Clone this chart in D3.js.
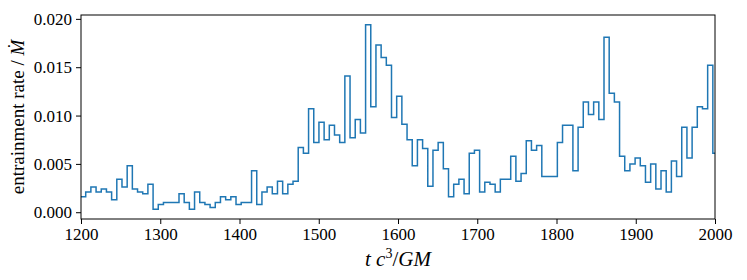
<!DOCTYPE html>
<html>
<head>
<meta charset="utf-8">
<script src="https://cdn.jsdelivr.net/npm/d3@7"></script>
<style>
  body { margin: 0; background: #fff; }
  svg { display: block; }
  text { font-family: "Liberation Serif", "DejaVu Serif", serif; fill: #000; }
</style>
</head>
<body>
<div id="chart"></div>
<script>
        // Bin layout of the step series (time in units of GM/c^3)
        const binStart = 1199.4;
        const binWidth = 6.54;

        // entrainment rate per bin
        const rates = [
            0.0016, 0.0021, 0.0026, 0.0021, 0.0024, 0.0021, 0.0013, 0.0034, 0.0026, 0.0048,
            0.0024, 0.0021, 0.0019, 0.0029, 0.0003, 0.0008, 0.0010, 0.0010, 0.0010, 0.0019,
            0.0010, 0.0003, 0.0021, 0.0010, 0.0008, 0.0005, 0.0010, 0.0016, 0.0013, 0.0016,
            0.0008, 0.0010, 0.0010, 0.0043, 0.0008, 0.0021, 0.0026, 0.0019, 0.0032, 0.0019,
            0.0029, 0.0032, 0.0067, 0.0061, 0.0107, 0.0072, 0.0093, 0.0075, 0.0090, 0.0080,
            0.0072, 0.0141, 0.0077, 0.0096, 0.0082, 0.0194, 0.0109, 0.0173, 0.0160, 0.0152,
            0.0098, 0.0120, 0.0091, 0.0075, 0.0048, 0.0075, 0.0066, 0.0027, 0.0064, 0.0072,
            0.0045, 0.0016, 0.0029, 0.0034, 0.0019, 0.0061, 0.0064, 0.0021, 0.0031, 0.0029,
            0.0021, 0.0034, 0.0034, 0.0058, 0.0032, 0.0040, 0.0074, 0.0064, 0.0069, 0.0037,
            0.0037, 0.0037, 0.0072, 0.0090, 0.0090, 0.0043, 0.0088, 0.0114, 0.0101, 0.0114,
            0.0096, 0.0181, 0.0123, 0.0114, 0.0058, 0.0043, 0.0050, 0.0056, 0.0048, 0.0031,
            0.0050, 0.0024, 0.0043, 0.0021, 0.0053, 0.0037, 0.0088, 0.0056, 0.0088, 0.0109,
            0.0107, 0.0152, 0.0061
        ];

        const xTicks = [1200, 1300, 1400, 1500, 1600, 1700, 1800, 1900, 2000];
        const yTicks = [0.000, 0.005, 0.010, 0.015, 0.020];

        function renderChart() {
            const W = 747, H = 280;
            const margin = { top: 15, right: 32, bottom: 61, left: 81 };
            const width = W - margin.left - margin.right;
            const height = H - margin.top - margin.bottom;

            const svg = d3.select("#chart").append("svg")
                .attr("width", W)
                .attr("height", H);

            const g = svg.append("g")
                .attr("transform", `translate(${margin.left},${margin.top})`);

            const x = d3.scaleLinear().domain([1200, 2000]).range([0, width]);
            const y = d3.scaleLinear().domain([-0.0007, 0.0204]).range([height, 0]);

            g.append("clipPath").attr("id", "plot-clip")
                .append("rect").attr("width", width).attr("height", height);

            // step line: each bin is a flat segment between its edges
            const pts = [];
            rates.forEach((v, i) => {
                pts.push([binStart + i * binWidth, v]);
                pts.push([binStart + (i + 1) * binWidth, v]);
            });
            const line = d3.line().x(d => x(d[0])).y(d => y(d[1]));

            g.append("path")
                .datum(pts)
                .attr("clip-path", "url(#plot-clip)")
                .attr("fill", "none")
                .attr("stroke", "#1f77b4")
                .attr("stroke-width", 1.5)
                .attr("stroke-linejoin", "miter")
                .attr("d", line);

            // Axes
            const xAxis = g.append("g")
                .attr("transform", `translate(0,${height})`)
                .call(d3.axisBottom(x).tickValues(xTicks).tickFormat(d3.format("d")).tickSize(5).tickPadding(4));
            const yAxis = g.append("g")
                .call(d3.axisLeft(y).tickValues(yTicks).tickFormat(d3.format(".3f")).tickSize(5).tickPadding(4));

            [xAxis, yAxis].forEach(a => {
                a.attr("font-family", '"Liberation Serif", serif').attr("font-size", 17);
                a.select(".domain").remove();
                a.selectAll("line").attr("stroke", "#000").attr("stroke-width", 1);
            });

            // frame
            g.append("rect")
                .attr("width", width).attr("height", height)
                .attr("fill", "none").attr("stroke", "#000").attr("stroke-width", 1);

            // axis labels
            const xl = svg.append("text")
                .attr("x", margin.left + width / 2)
                .attr("y", 266)
                .attr("text-anchor", "middle")
                .style("font-size", "21px");
            xl.append("tspan").style("font-style", "italic").text("t c");
            xl.append("tspan").attr("dy", -8).style("font-size", "14px").text("3");
            xl.append("tspan").attr("dy", 8).text("/");
            xl.append("tspan").style("font-style", "italic").text("GM");

            const yl = svg.append("text")
                .attr("transform", `translate(24,${margin.top + 102}) rotate(-90)`)
                .attr("text-anchor", "middle")
                .style("font-size", "19px");
            yl.append("tspan").text("entrainment rate / ");
            yl.append("tspan").style("font-style", "italic").text("\u1E40");
        }

        window.onload = renderChart;
</script>
</body>
</html>
